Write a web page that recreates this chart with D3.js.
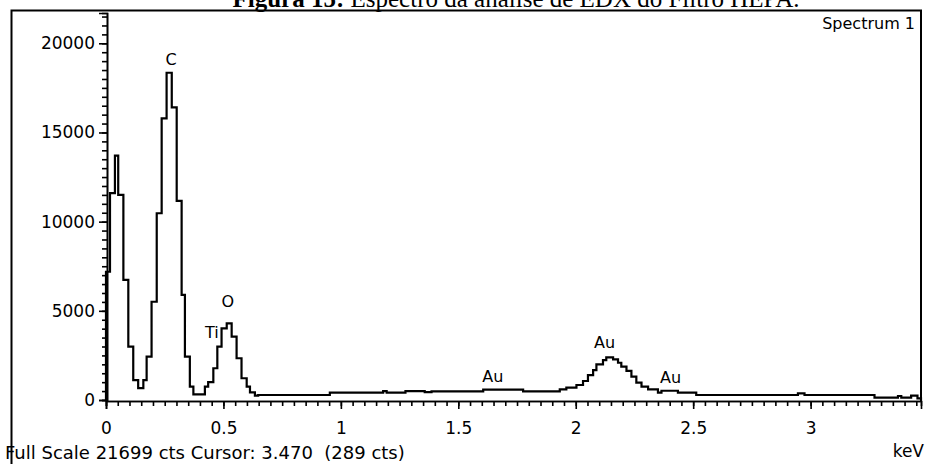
<!DOCTYPE html>
<html>
<head>
<meta charset="utf-8">
<script src="https://cdn.jsdelivr.net/npm/d3@7"></script>
<style>
    body { margin: 0; background: #fff; }
    svg { display: block; }
    .axis path, .axis line { stroke: #000; stroke-width: 1.6px; }
    .axis text { font-family: "DejaVu Sans", sans-serif; font-size: 17px; fill: #000; }
    .label { font-family: "DejaVu Sans", sans-serif; font-size: 16px; fill: #000; }
</style>
</head>
<body>
<script>
"use strict";

// step start energies (keV) and counts
const STEP_KEV = [0.000, 0.017, 0.038, 0.052, 0.074, 0.095, 0.116, 0.137, 0.159, 0.173,
                  0.194, 0.216, 0.237, 0.258, 0.280, 0.301, 0.322, 0.336, 0.357, 0.372,
                  0.421, 0.435, 0.457, 0.474, 0.492, 0.514, 0.535, 0.556, 0.577, 0.599,
                  0.613, 0.634, 0.648, 0.953, 1.180, 1.195, 1.275, 1.357, 1.386, 1.606,
                  1.776, 1.932, 1.960, 2.003, 2.031, 2.052, 2.074, 2.088, 2.116, 2.130,
                  2.159, 2.180, 2.194, 2.216, 2.237, 2.258, 2.280, 2.308, 2.350, 2.365,
                  2.435, 2.513, 2.946, 2.974, 3.272, 3.372, 3.386, 3.428, 3.455];
const STEP_CTS = [7190, 11600, 13700, 11500, 6730, 2990, 1120, 670, 1120, 2430,
                  5510, 10470, 15790, 18350, 16410, 11160, 5890, 2430, 750, 320,
                  750, 1000, 1780, 2990, 4020, 4300, 3550, 2340, 1220, 750,
                  430, 250, 280, 410, 500, 410, 500, 440, 480, 580,
                  480, 600, 690, 840, 1065, 1400, 1680, 2000, 2240, 2390,
                  2280, 2090, 1870, 1630, 1310, 970, 750, 600, 410, 520,
                  410, 280, 375, 280, 130, 225, 130, 250, 90];

const X_TICKS = [0, 0.5, 1, 1.5, 2, 2.5, 3];
const X_TICK_LABELS = ["0", "0.5", "1", "1.5", "2", "2.5", "3"];
const Y_TICKS = [0, 5000, 10000, 15000, 20000];

const PEAK_NAMES = ["C", "O", "Ti", "Au", "Au", "Au"];
const PEAK_KEV = [0.277, 0.519, 0.451, 1.647, 2.123, 2.404];
const PEAK_CTS = [18780, 5230, 3480, 1030, 2915, 950];

const FULL_SCALE = 21699;
const CURSOR_KEV = 3.470;
const CURSOR_CTS = 289;

const WIDTH = 925;
const HEIGHT = 464;

let svg = d3.select("body")
            .append("svg")
            .attr("width", WIDTH)
            .attr("height", HEIGHT);

let x = d3.scaleLinear()
          .domain([0, CURSOR_KEV])
          .range([106, 921]);
let y = d3.scaleLinear()
          .domain([0, FULL_SCALE])
          .range([400, 13]);

// frame
svg.append("path")
   .attr("d", "M11.5,464V10.5H921V401")
   .attr("fill", "none")
   .attr("stroke", "#000")
   .attr("stroke-width", 2);

// title, cut off by the top of the picture
let title = svg.append("text")
               .attr("x", 516)
               .attr("y", 7)
               .attr("text-anchor", "middle")
               .style("font-family", "'Liberation Serif', serif")
               .style("font-size", "25px");
title.append("tspan").style("font-weight", "bold").text("Figura 15:");
title.append("tspan").text(" Espectro da análise de EDX do Filtro HEPA.");

/**
 * Minor tick values between 0 and max
 *
 * @param {Number} step tick spacing
 * @param {Number} max  upper bound
 * @return {Array} tick values
 */
function minorTicks(step, max)
{
    return d3.range(0, Math.floor(max / step + 1e-6) + 1).map((i)=>{return +(i * step).toFixed(4);});
}

// y axis
svg.append("g")
   .attr("class", "axis")
   .attr("transform", "translate(107,0)")
   .call(d3.axisLeft(y)
           .tickValues(minorTicks(500, FULL_SCALE))
           .tickSize(5)
           .tickFormat(""));
svg.append("g")
   .attr("class", "axis")
   .attr("transform", "translate(107,0)")
   .call(d3.axisLeft(y)
           .tickValues(Y_TICKS)
           .tickSize(8)
           .tickPadding(4)
           .tickFormat(d3.format("d")));

// x axis
svg.append("g")
   .attr("class", "axis")
   .attr("transform", "translate(0,401)")
   .call(d3.axisBottom(x)
           .tickValues(minorTicks(0.05, CURSOR_KEV))
           .tickSize(5)
           .tickFormat(""));
svg.append("g")
   .attr("class", "axis")
   .attr("transform", "translate(0,401)")
   .call(d3.axisBottom(x)
           .tickValues(X_TICKS)
           .tickSize(8)
           .tickPadding(13)
           .tickFormat((d, i)=>{return X_TICK_LABELS[i];}));

svg.selectAll(".axis .domain").attr("stroke-width", 1.6);

// spectrum
let points = STEP_KEV.map((k, i)=>{return [k, STEP_CTS[i]];});
points.unshift([0, 0]);
points.push([CURSOR_KEV, 0]);

let line = d3.line()
             .x((d)=>{return x(d[0]);})
             .y((d)=>{return y(d[1]);})
             .curve(d3.curveStepAfter);

svg.append("path")
   .datum(points)
   .attr("fill", "none")
   .attr("stroke", "#000")
   .attr("stroke-width", 2.2)
   .attr("d", line);

// peak labels
svg.selectAll(".peak")
   .data(PEAK_NAMES)
   .enter()
   .append("text")
   .attr("class", "label")
   .attr("x", (d, i)=>{return x(PEAK_KEV[i]);})
   .attr("y", (d, i)=>{return y(PEAK_CTS[i]);})
   .attr("text-anchor", "middle")
   .text((d)=>{return d;});

svg.append("text")
   .attr("class", "label")
   .attr("x", 915)
   .attr("y", 29)
   .attr("text-anchor", "end")
   .text("Spectrum 1");

svg.append("text")
   .attr("class", "label")
   .attr("x", 5)
   .attr("y", 459)
   .style("white-space", "pre")
   .style("font-size", "18px")
   .text("Full Scale " + FULL_SCALE + " cts Cursor: " + CURSOR_KEV.toFixed(3) + "  (" + CURSOR_CTS + " cts)");

svg.append("text")
   .attr("class", "label")
   .attr("x", 924)
   .attr("y", 457)
   .attr("text-anchor", "end")
   .style("font-size", "17px")
   .text("keV");
</script>
</body>
</html>
